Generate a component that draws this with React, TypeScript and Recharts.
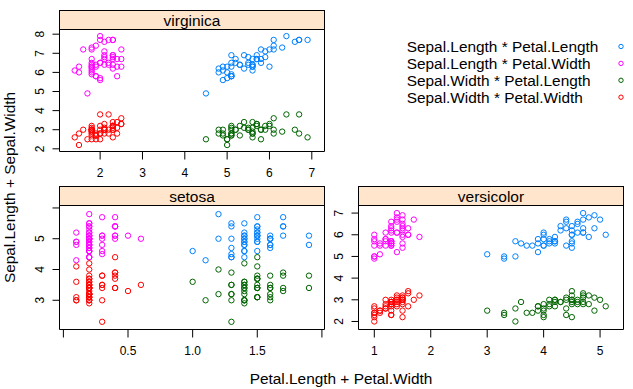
import React from "react";
import { ScatterChart, Scatter, XAxis, YAxis, ReferenceArea } from "recharts";

// ---- data (iris, per species) ----
const setosaSepalLength = [5.1,4.9,4.7,4.6,5.0,5.4,4.6,5.0,4.4,4.9,5.4,4.8,4.8,4.3,5.8,5.7,5.4,5.1,5.7,5.1,5.4,5.1,4.6,5.1,4.8,5.0,5.0,5.2,5.2,4.7,4.8,5.4,5.2,5.5,4.9,5.0,5.5,4.9,4.4,5.1,5.0,4.5,4.4,5.0,5.1,4.8,5.1,4.6,5.3,5.0];
const setosaSepalWidth = [3.5,3.0,3.2,3.1,3.6,3.9,3.4,3.4,2.9,3.1,3.7,3.4,3.0,3.0,4.0,4.4,3.9,3.5,3.8,3.8,3.4,3.7,3.6,3.3,3.4,3.0,3.4,3.5,3.4,3.2,3.1,3.4,4.1,4.2,3.1,3.2,3.5,3.6,3.0,3.4,3.5,2.3,3.2,3.5,3.8,3.0,3.8,3.2,3.7,3.3];
const setosaPetalLength = [1.4,1.4,1.3,1.5,1.4,1.7,1.4,1.5,1.4,1.5,1.5,1.6,1.4,1.1,1.2,1.5,1.3,1.4,1.7,1.5,1.7,1.5,1.0,1.7,1.9,1.6,1.6,1.5,1.4,1.6,1.6,1.5,1.5,1.4,1.5,1.2,1.3,1.4,1.3,1.5,1.3,1.3,1.3,1.6,1.9,1.4,1.6,1.4,1.5,1.4];
const setosaPetalWidth = [0.2,0.2,0.2,0.2,0.2,0.4,0.3,0.2,0.2,0.1,0.2,0.2,0.1,0.1,0.2,0.4,0.4,0.3,0.3,0.3,0.2,0.4,0.2,0.5,0.2,0.2,0.4,0.2,0.2,0.2,0.2,0.4,0.1,0.2,0.2,0.2,0.2,0.1,0.2,0.2,0.3,0.3,0.2,0.6,0.4,0.3,0.2,0.2,0.2,0.2];

const versicolorSepalLength = [7.0,6.4,6.9,5.5,6.5,5.7,6.3,4.9,6.6,5.2,5.0,5.9,6.0,6.1,5.6,6.7,5.6,5.8,6.2,5.6,5.9,6.1,6.3,6.1,6.4,6.6,6.8,6.7,6.0,5.7,5.5,5.5,5.8,6.0,5.4,6.0,6.7,6.3,5.6,5.5,5.5,6.1,5.8,5.0,5.6,5.7,5.7,6.2,5.1,5.7];
const versicolorSepalWidth = [3.2,3.2,3.1,2.3,2.8,2.8,3.3,2.4,2.9,2.7,2.0,3.0,2.2,2.9,2.9,3.1,3.0,2.7,2.2,2.5,3.2,2.8,2.5,2.8,2.9,3.0,2.8,3.0,2.9,2.6,2.4,2.4,2.7,2.7,3.0,3.4,3.1,2.3,3.0,2.5,2.6,3.0,2.6,2.3,2.7,3.0,2.9,2.9,2.5,2.8];
const versicolorPetalLength = [4.7,4.5,4.9,4.0,4.6,4.5,4.7,3.3,4.6,3.9,3.5,4.2,4.0,4.7,3.6,4.4,4.5,4.1,4.5,3.9,4.8,4.0,4.9,4.7,4.3,4.4,4.8,5.0,4.5,3.5,3.8,3.7,3.9,5.1,4.5,4.5,4.7,4.4,4.1,4.0,4.4,4.6,4.0,3.3,4.2,4.2,4.2,4.3,3.0,4.1];
const versicolorPetalWidth = [1.4,1.5,1.5,1.3,1.5,1.3,1.6,1.0,1.3,1.4,1.0,1.5,1.0,1.4,1.3,1.4,1.5,1.0,1.5,1.1,1.8,1.3,1.5,1.2,1.3,1.4,1.4,1.7,1.5,1.0,1.1,1.0,1.2,1.6,1.5,1.6,1.5,1.3,1.3,1.3,1.2,1.4,1.2,1.0,1.3,1.2,1.3,1.3,1.1,1.3];

const virginicaSepalLength = [6.3,5.8,7.1,6.3,6.5,7.6,4.9,7.3,6.7,7.2,6.5,6.4,6.8,5.7,5.8,6.4,6.5,7.7,7.7,6.0,6.9,5.6,7.7,6.3,6.7,7.2,6.2,6.1,6.4,7.2,7.4,7.9,6.4,6.3,6.1,7.7,6.3,6.4,6.0,6.9,6.7,6.9,5.8,6.8,6.7,6.7,6.3,6.5,6.2,5.9];
const virginicaSepalWidth = [3.3,2.7,3.0,2.9,3.0,3.0,2.5,2.9,2.5,3.6,3.2,2.7,3.0,2.5,2.8,3.2,3.0,3.8,2.6,2.2,3.2,2.8,2.8,2.7,3.3,3.2,2.8,3.0,2.8,3.0,2.8,3.8,2.8,2.8,2.6,3.0,3.4,3.1,3.0,3.1,3.1,3.1,2.7,3.2,3.3,3.0,2.5,3.0,3.4,3.0];
const virginicaPetalLength = [6.0,5.1,5.9,5.6,5.8,6.6,4.5,6.3,5.8,6.1,5.1,5.3,5.5,5.0,5.1,5.3,5.5,6.7,6.9,5.0,5.7,4.9,6.7,4.9,5.7,6.0,4.8,4.9,5.6,5.8,6.1,6.4,5.6,5.1,5.6,6.1,5.6,5.5,4.8,5.4,5.6,5.1,5.1,5.9,5.7,5.2,5.0,5.2,5.4,5.1];
const virginicaPetalWidth = [2.5,1.9,2.1,1.8,2.2,2.1,1.7,1.8,1.8,2.5,2.0,1.9,2.1,2.0,2.4,2.3,1.8,2.2,2.3,1.5,2.3,2.0,2.0,1.8,2.1,1.8,1.8,1.8,2.1,1.6,1.9,2.0,2.2,1.5,1.4,2.3,2.4,1.8,1.8,2.1,2.4,2.3,1.9,2.3,2.5,2.3,1.9,2.0,2.3,1.8];

const seriesNames = [
  "Sepal.Length * Petal.Length",
  "Sepal.Length * Petal.Width",
  "Sepal.Width * Petal.Length",
  "Sepal.Width * Petal.Width",
];
const seriesColors = ["#0080ff", "#ff00ff", "#006400", "#ff0000"];

// ticks and labels
const virginicaXTicks = [2, 3, 4, 5, 6, 7];
const virginicaXLabels = ["2", "3", "4", "5", "6", "7"];
const virginicaYTicks = [2, 3, 4, 5, 6, 7, 8];
const virginicaYLabels = ["2", "3", "4", "5", "6", "7", "8"];
const setosaXTicks = [0, 0.5, 1, 1.5, 2];
const setosaXLabels = ["", "0.5", "1.0", "1.5", ""];
const setosaYTicks = [3, 4, 5, 6];
const setosaYLabels = ["3", "4", "5", ""];
const versicolorXTicks = [1, 2, 3, 4, 5];
const versicolorXLabels = ["1", "2", "3", "4", "5"];
const versicolorYTicks = [2, 3, 4, 5, 6, 7];
const versicolorYLabels = ["2", "3", "4", "5", "6", "7"];

const FONT = "'Liberation Sans', Arial, sans-serif";
const W = 633;
const H = 389;
const AX = 40;

function pairs(ys: number[], xs: number[]) {
  return xs.map((x, i) => ({ x, y: ys[i] }));
}

type Box = { left: number; right: number; top: number; bottom: number };

function makeXTick(ticks: number[], labels: string[]) {
  return (props: any) => {
    const { x, y, payload } = props;
    const idx = ticks.indexOf(payload.value);
    const label = idx >= 0 ? labels[idx] : "";
    if (!label) return <g />;
    return (
      <text x={x} y={y + 15.8} textAnchor="middle" fontSize={12} fontFamily={FONT} fill="#000">
        {label}
      </text>
    );
  };
}

function makeYTick(ticks: number[], labels: string[]) {
  return (props: any) => {
    const { x, y, payload } = props;
    const idx = ticks.indexOf(payload.value);
    const label = idx >= 0 ? labels[idx] : "";
    if (!label) return <g />;
    const bx = x - 6.2;
    return (
      <text
        x={bx}
        y={y}
        transform={`rotate(-90 ${bx} ${y})`}
        textAnchor="middle"
        fontSize={12}
        fontFamily={FONT}
        fill="#000"
      >
        {label}
      </text>
    );
  };
}

function Panel(p: {
  sl: number[]; sw: number[]; pl: number[]; pw: number[];
  box: Box; xDomain: [number, number]; yDomain: [number, number];
  xTicks: number[]; xLabels: string[]; yTicks: number[]; yLabels: string[];
}) {
  const { box } = p;
  const margin = {
    left: box.left - AX,
    right: W - box.right,
    top: box.top,
    bottom: H - box.bottom - AX,
  };
  const series = [pairs(p.sl, p.pl), pairs(p.sl, p.pw), pairs(p.sw, p.pl), pairs(p.sw, p.pw)];
  return (
    <div style={{ position: "absolute", left: 0, top: 0, width: W, height: H }}>
      <ScatterChart width={W} height={H} margin={margin}>
        <XAxis
          type="number"
          dataKey="x"
          domain={p.xDomain}
          allowDataOverflow
          ticks={p.xTicks}
          interval={0}
          height={AX}
          tickSize={8}
          tickMargin={2}
          axisLine={false}
          tickLine={{ stroke: "#000" }}
          tick={makeXTick(p.xTicks, p.xLabels)}
        />
        <YAxis
          type="number"
          dataKey="y"
          domain={p.yDomain}
          allowDataOverflow
          ticks={p.yTicks}
          interval={0}
          width={AX}
          tickSize={7}
          tickMargin={2}
          axisLine={false}
          tickLine={{ stroke: "#000" }}
          tick={makeYTick(p.yTicks, p.yLabels)}
        />
        <ReferenceArea
          x1={p.xDomain[0]}
          x2={p.xDomain[1]}
          y1={p.yDomain[0]}
          y2={p.yDomain[1]}
          fill="none"
          fillOpacity={0}
          stroke="#000"
          strokeOpacity={1}
          strokeWidth={1}
        />
        {series.map((d, i) => (
          <Scatter
            key={i}
            data={d}
            isAnimationActive={false}
            shape={(sp: any) => (
              <circle cx={sp.cx} cy={sp.cy} r={2.7} fill="none" stroke={seriesColors[i]} strokeWidth={1} />
            )}
          />
        ))}
      </ScatterChart>
    </div>
  );
}

const virginicaBox: Box = { left: 59.5, right: 324.5, top: 29.5, bottom: 151.5 };
const setosaBox: Box = { left: 59.5, right: 324.5, top: 205.5, bottom: 329.5 };
const versicolorBox: Box = { left: 358.5, right: 623.5, top: 205.5, bottom: 329.5 };
const STRIP_H = 19;

function Strip({ box, label }: { box: Box; label: string }) {
  return (
    <g>
      <rect x={box.left} y={box.top - STRIP_H} width={box.right - box.left} height={STRIP_H} fill="#ffe5cc" stroke="#000" />
      <text x={(box.left + box.right) / 2} y={box.top - STRIP_H + 15.5} textAnchor="middle" fontSize={15.5} fontFamily={FONT} fill="#000">
        {label}
      </text>
    </g>
  );
}

export default function App() {
  return (
    <div style={{ position: "absolute", left: 0, top: 0, width: W, height: H, background: "#fff", overflow: "hidden" }}>
      <Panel
        sl={virginicaSepalLength} sw={virginicaSepalWidth} pl={virginicaPetalLength} pw={virginicaPetalWidth}
        box={virginicaBox} xDomain={[1.04, 7.3]} yDomain={[1.86, 8.245]}
        xTicks={virginicaXTicks} xLabels={virginicaXLabels} yTicks={virginicaYTicks} yLabels={virginicaYLabels}
      />
      <Panel
        sl={setosaSepalLength} sw={setosaSepalWidth} pl={setosaPetalLength} pw={setosaPetalWidth}
        box={setosaBox} xDomain={[-0.03, 2.02]} yDomain={[2.05, 6.08]}
        xTicks={setosaXTicks} xLabels={setosaXLabels} yTicks={setosaYTicks} yLabels={setosaYLabels}
      />
      <Panel
        sl={versicolorSepalLength} sw={versicolorSepalWidth} pl={versicolorPetalLength} pw={versicolorPetalWidth}
        box={versicolorBox} xDomain={[0.72, 5.415]} yDomain={[1.63, 7.35]}
        xTicks={versicolorXTicks} xLabels={versicolorXLabels} yTicks={versicolorYTicks} yLabels={versicolorYLabels}
      />
      <svg width={W} height={H} style={{ position: "absolute", left: 0, top: 0, pointerEvents: "none" }}>
        <Strip box={virginicaBox} label="virginica" />
        <Strip box={setosaBox} label="setosa" />
        <Strip box={versicolorBox} label="versicolor" />
        <text x={341} y={384} textAnchor="middle" fontSize={15.4} fontFamily={FONT} fill="#000">
          Petal.Length + Petal.Width
        </text>
        <text x={15} y={187.5} transform="rotate(-90 15 187.5)" textAnchor="middle" fontSize={15.4} fontFamily={FONT} fill="#000">
          Sepal.Length + Sepal.Width
        </text>
        {seriesNames.map((name, i) => (
          <g key={name}>
            <text x={406.7} y={52 + i * 16.9} fontSize={15.4} fontFamily={FONT} fill="#000">
              {name}
            </text>
            <circle cx={621} cy={46.5 + i * 16.9} r={2.2} fill="none" stroke={seriesColors[i]} strokeWidth={1} />
          </g>
        ))}
      </svg>
    </div>
  );
}
